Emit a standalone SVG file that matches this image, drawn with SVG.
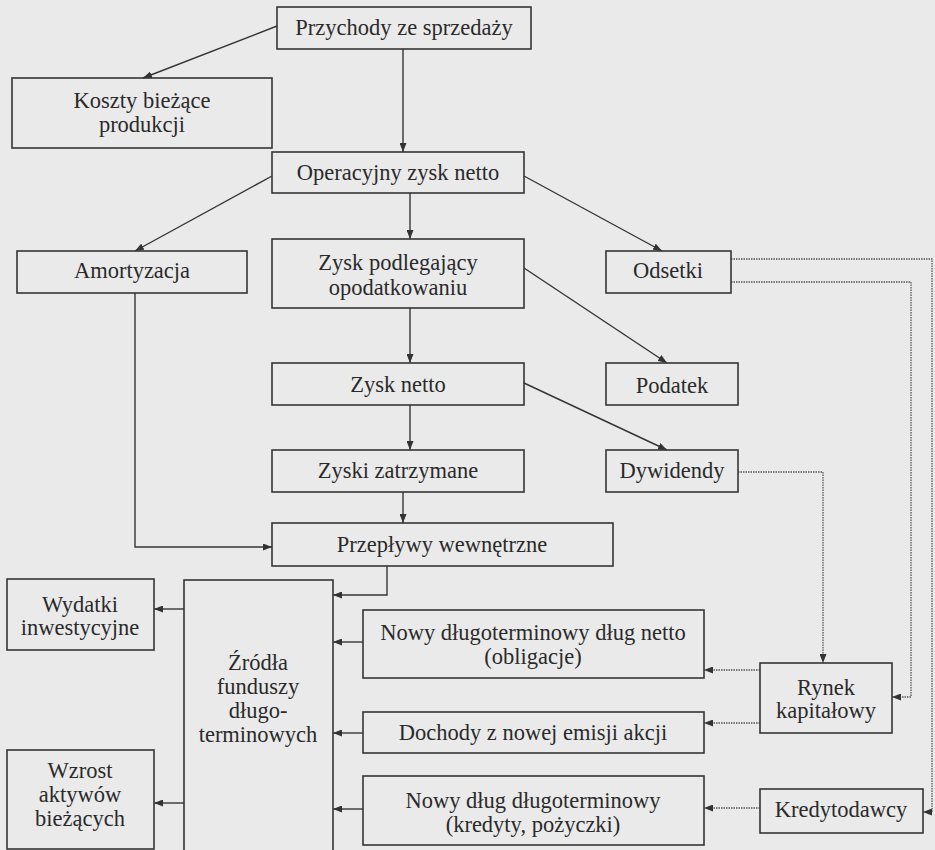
<svg xmlns="http://www.w3.org/2000/svg" width="935" height="850" viewBox="0 0 935 850">
<style>
.bg{fill:#eaeaea}
.box{fill:none;stroke:#353535;stroke-width:1.6}
.t{font-family:'Liberation Serif','Times New Roman',serif;font-size:22.5px;fill:#2a2a2a;text-anchor:middle}
.c{fill:none;stroke:#353535;stroke-width:1.4}
.d{fill:none;stroke:#555;stroke-width:1.3;stroke-dasharray:1.5 1}
</style>
<defs>
<marker id="ah" markerWidth="9" markerHeight="7" refX="9" refY="3.5" orient="auto" markerUnits="userSpaceOnUse">
<path d="M0,0 L9,3.5 L0,7 z" fill="#333"/>
</marker>
</defs>
<rect class="bg" x="0" y="0" width="935" height="850"/>
<g id="connectors">
<path class="c" d="M277,26 L143,78" marker-end="url(#ah)"/>
<path class="c" d="M403,49 V152" marker-end="url(#ah)"/>
<path class="c" d="M272,176 L135,251" marker-end="url(#ah)"/>
<path class="c" d="M410,193 V239" marker-end="url(#ah)"/>
<path class="c" d="M524,176 L662,251" marker-end="url(#ah)"/>
<path class="c" d="M410,308 V363" marker-end="url(#ah)"/>
<path class="c" d="M524,268 L667,363" marker-end="url(#ah)"/>
<path class="c" d="M410,405 V450" marker-end="url(#ah)"/>
<path class="c" d="M524,383 L667,450" marker-end="url(#ah)"/>
<path class="c" d="M403,492 V523" marker-end="url(#ah)"/>
<path class="c" d="M135,293 V547 H272" marker-end="url(#ah)"/>
<path class="c" d="M387,566 V595 H333" marker-end="url(#ah)"/>
<path class="c" d="M363,642 H333" marker-end="url(#ah)"/>
<path class="c" d="M363,733 H333" marker-end="url(#ah)"/>
<path class="c" d="M363,809 H333" marker-end="url(#ah)"/>
<path class="c" d="M184,609 H154" marker-end="url(#ah)"/>
<path class="c" d="M184,803 H154" marker-end="url(#ah)"/>
<path class="d" d="M760,670 H704" marker-end="url(#ah)"/>
<path class="d" d="M760,723 H704" marker-end="url(#ah)"/>
<path class="d" d="M760,808 H704" marker-end="url(#ah)"/>
<path class="d" d="M738,472 H823 V663" marker-end="url(#ah)"/>
<path class="d" d="M731,282 H911 V697 H892" marker-end="url(#ah)"/>
<path class="d" d="M731,259 H932 V812 H923" marker-end="url(#ah)"/>
</g>
<g id="przychody"><rect class="box" x="277" y="7" width="254" height="42"/><text class="t" x="404" y="35">Przychody ze sprzedaży</text></g>
<g id="koszty"><rect class="box" x="12" y="78" width="260" height="70"/><text class="t" x="142" y="108">Koszty bieżące</text><text class="t" x="142" y="132">produkcji</text></g>
<g id="operacyjny"><rect class="box" x="272" y="152" width="252" height="41"/><text class="t" x="398" y="180">Operacyjny zysk netto</text></g>
<g id="amortyzacja"><rect class="box" x="17" y="251" width="230" height="42"/><text class="t" x="132" y="278">Amortyzacja</text></g>
<g id="zysk-podlegajacy"><rect class="box" x="272" y="239" width="252" height="69"/><text class="t" x="398" y="270">Zysk podlegający</text><text class="t" x="398" y="295">opodatkowaniu</text></g>
<g id="odsetki"><rect class="box" x="606" y="251" width="125" height="42"/><text class="t" x="668" y="278">Odsetki</text></g>
<g id="zysk-netto"><rect class="box" x="272" y="363" width="252" height="42"/><text class="t" x="398" y="392">Zysk netto</text></g>
<g id="podatek"><rect class="box" x="606" y="363" width="132" height="42"/><text class="t" x="672" y="393">Podatek</text></g>
<g id="zyski-zatrzymane"><rect class="box" x="272" y="450" width="252" height="42"/><text class="t" x="398" y="478">Zyski zatrzymane</text></g>
<g id="dywidendy"><rect class="box" x="606" y="450" width="132" height="42"/><text class="t" x="672" y="478">Dywidendy</text></g>
<g id="przeplywy"><rect class="box" x="272" y="523" width="341" height="43"/><text class="t" x="442" y="552">Przepływy wewnętrzne</text></g>
<g id="wydatki"><rect class="box" x="7" y="579" width="147" height="71"/><text class="t" x="80" y="612">Wydatki</text><text class="t" x="80" y="635">inwestycyjne</text></g>
<g id="zrodla"><rect class="box" x="184" y="580" width="149" height="280"/><text class="t" x="258" y="670">Źródła</text><text class="t" x="258" y="694">funduszy</text><text class="t" x="258" y="718">długo-</text><text class="t" x="258" y="742">terminowych</text></g>
<g id="nowy-dlug-netto"><rect class="box" x="363" y="610" width="341" height="68"/><text class="t" x="533" y="640">Nowy długoterminowy dług netto</text><text class="t" x="533" y="664">(obligacje)</text></g>
<g id="dochody"><rect class="box" x="363" y="712" width="341" height="41"/><text class="t" x="533" y="740">Dochody z nowej emisji akcji</text></g>
<g id="nowy-dlug"><rect class="box" x="363" y="776" width="341" height="69"/><text class="t" x="533" y="808">Nowy dług długoterminowy</text><text class="t" x="533" y="832">(kredyty, pożyczki)</text></g>
<g id="wzrost"><rect class="box" x="7" y="750" width="147" height="99"/><text class="t" x="80" y="778">Wzrost</text><text class="t" x="80" y="802">aktywów</text><text class="t" x="80" y="826">bieżących</text></g>
<g id="rynek"><rect class="box" x="760" y="663" width="132" height="70"/><text class="t" x="826" y="695">Rynek</text><text class="t" x="826" y="718">kapitałowy</text></g>
<g id="kredytodawcy"><rect class="box" x="760" y="789" width="163" height="44"/><text class="t" x="841" y="817">Kredytodawcy</text></g>
</svg>
